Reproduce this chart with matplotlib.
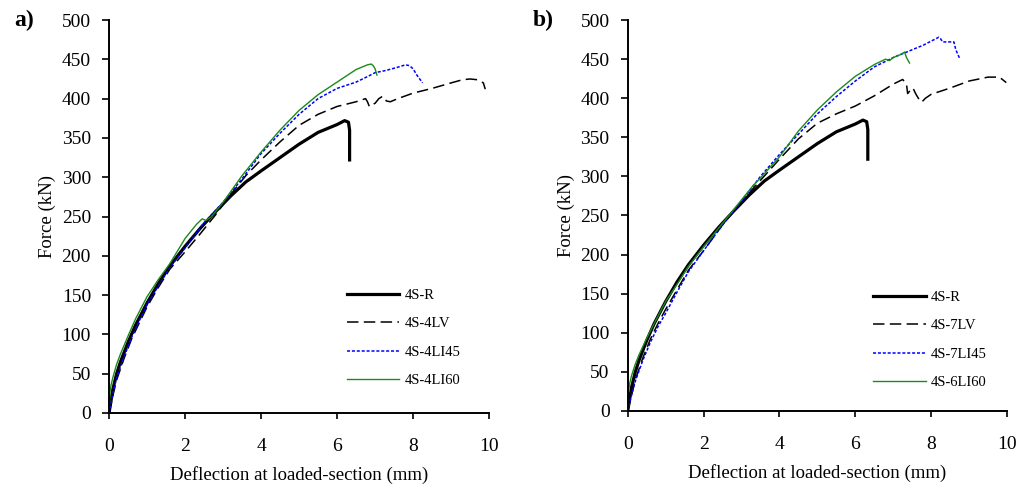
import matplotlib
matplotlib.use("Agg")
from matplotlib import pyplot as plt

plt.rcParams['font.family'] = ['Liberation Serif', 'DejaVu Serif']

# reference beam (same in both panels)
r_x = [0, 0.05, 0.1, 0.2, 0.3, 0.5, 0.7, 1.0, 1.3, 1.6, 2.0, 2.4, 2.8, 3.2,
       3.6, 4.0, 4.5, 5.0, 5.5, 6.0, 6.2, 6.3, 6.33, 6.33]
r_y = [0, 15, 30, 50, 65, 90, 112, 140, 165, 187, 212, 235, 256, 276,
       294, 308, 325, 342, 357, 367, 372, 370, 360, 322]

# panel a
lv_a_x = [0, 0.05, 0.1, 0.2, 0.4, 0.6, 0.8, 1.0, 1.3, 1.6, 2.0, 2.4, 2.8, 3.2,
          3.6, 4.0, 4.5, 5.0, 5.5, 6.0, 6.5, 6.75, 6.8, 6.85, 6.9, 7.0, 7.1,
          7.2, 7.3, 7.4, 7.6, 8.0, 8.5, 9.0, 9.3, 9.5, 9.7, 9.85, 9.9]
lv_a_y = [0, 10, 22, 42, 70, 95, 115, 135, 160, 183, 205, 228, 252, 278,
          302, 322, 345, 366, 380, 390, 396, 400, 396, 390, 392, 394, 400,
          403, 397, 396, 400, 407, 413, 420, 424, 425, 424, 420, 412]

li45_a_x = [0, 0.05, 0.1, 0.2, 0.4, 0.6, 0.8, 1.0, 1.3, 1.6, 2.0, 2.5, 3.0,
            3.5, 4.0, 4.5, 5.0, 5.5, 6.0, 6.5, 6.8, 7.0, 7.3, 7.6, 7.8, 7.9,
            8.0, 8.1, 8.25]
li45_a_y = [0, 12, 25, 45, 72, 97, 118, 138, 162, 185, 210, 242, 268,
            298, 330, 356, 380, 400, 413, 421, 428, 433, 436, 440, 443, 442,
            438, 430, 420]

li60_a_x = [0, 0.02, 0.05, 0.1, 0.2, 0.3, 0.5, 0.7, 1.0, 1.3, 1.6, 2.0, 2.3,
            2.45, 2.55, 2.7, 3.0, 3.5, 4.0, 4.5, 5.0, 5.5, 6.0, 6.5, 6.7, 6.8,
            6.9, 6.95, 7.0, 7.05]
li60_a_y = [0, 25, 35, 45, 62, 75, 98, 120, 148, 170, 190, 222, 240,
            247, 245, 250, 268, 302, 332, 360, 385, 405, 421, 437, 441, 443,
            444, 442, 438, 430]

# panel b
lv_b_x = [0, 0.05, 0.1, 0.2, 0.4, 0.6, 0.8, 1.0, 1.3, 1.6, 2.0, 2.5, 3.0, 3.5,
          4.0, 4.5, 5.0, 5.5, 6.0, 6.5, 7.0, 7.25, 7.35, 7.38, 7.45, 7.52, 7.6,
          7.7, 7.75, 7.85, 8.0, 8.5, 9.0, 9.5, 9.8, 9.98]
lv_b_y = [0, 10, 20, 40, 68, 92, 112, 130, 155, 180, 205, 238, 268, 295,
          322, 348, 368, 380, 390, 403, 418, 424, 418, 406, 410, 413, 405,
          397, 395, 400, 405, 413, 422, 427, 427, 420]

li45_b_x = [0, 0.05, 0.1, 0.2, 0.4, 0.6, 0.8, 1.0, 1.3, 1.6, 2.0, 2.5, 3.0,
            3.5, 4.0, 4.5, 5.0, 5.5, 6.0, 6.5, 7.0, 7.5, 7.8, 8.0, 8.2, 8.25,
            8.3, 8.6, 8.65, 8.75]
li45_b_y = [0, 10, 20, 38, 65, 88, 108, 125, 152, 178, 205, 238, 268,
            300, 328, 354, 380, 402, 422, 440, 452, 462, 468, 473, 478, 476,
            472, 472, 462, 451]

li60_b_x = [0, 0.02, 0.05, 0.1, 0.2, 0.3, 0.5, 0.7, 1.0, 1.3, 1.6, 2.0, 2.5,
            3.0, 3.3, 3.5, 4.0, 4.5, 5.0, 5.5, 6.0, 6.5, 6.8, 6.9, 7.0, 7.2,
            7.3, 7.35, 7.43]
li60_b_y = [0, 25, 35, 45, 60, 72, 93, 112, 140, 162, 185, 210, 240,
            270, 288, 298, 325, 358, 385, 408, 428, 443, 450, 448, 452, 456,
            459, 452, 445]

labels_a = ["4S-R", "4S-4LV", "4S-4LI45", "4S-4LI60"]
labels_b = ["4S-R", "4S-7LV", "4S-7LI45", "4S-6LI60"]
x_ticks = [0, 2, 4, 6, 8, 10]
y_ticks = [0, 50, 100, 150, 200, 250, 300, 350, 400, 450, 500]


def draw_panel(ax, curves, labels, tag, leg_anchor):
    (rx, ry), (lvx, lvy), (l45x, l45y), (l60x, l60y) = curves
    ax.plot(rx, ry, color="black", lw=2.3, label=labels[0])
    ax.plot(lvx, lvy, color="black", lw=1.1, dashes=(7.5, 3.5), label=labels[1])
    ax.plot(l45x, l45y, color="blue", lw=1.1, dashes=(2.0, 1.2), label=labels[2])
    ax.plot(l60x, l60y, color="#1a8a1a", lw=1.0, label=labels[3])

    ax.set_xlim(0, 10)
    ax.set_ylim(0, 500)
    ax.set_xticks(x_ticks)
    ax.set_yticks(y_ticks)
    for s in ("top", "right"):
        ax.spines[s].set_visible(False)
    for s in ("left", "bottom"):
        ax.spines[s].set_linewidth(1.4)
    ax.tick_params(axis="y", labelsize=14, length=5, width=1.2, pad=8)
    ax.tick_params(axis="x", labelsize=14, length=4, width=1.2, pad=14)
    ax.set_xlabel("Deflection at loaded-section (mm)", fontsize=13.5, labelpad=8)
    ax.set_ylabel("Force (kN)", fontsize=13.5, labelpad=4)

    ax.legend(loc="center left", bbox_to_anchor=leg_anchor, frameon=False,
              fontsize=10.5, handlelength=3.6, handletextpad=0.35,
              labelspacing=1.05, borderpad=0, borderaxespad=0)
    ax.text(-0.25, 1.0, tag, transform=ax.transAxes, fontsize=17,
            fontweight="bold", ha="left", va="center")


fig = plt.figure(figsize=(10.21, 4.91), dpi=100)
ax_a = fig.add_axes([0.1068, 0.1589, 0.3722, 0.8003])
ax_b = fig.add_axes([0.6148, 0.1630, 0.3715, 0.7962])

draw_panel(ax_a,
           [(r_x, r_y), (lv_a_x, lv_a_y), (li45_a_x, li45_a_y), (li60_a_x, li60_a_y)],
           labels_a, "a)", (0.626, 0.191))
draw_panel(ax_b,
           [(r_x, r_y), (lv_b_x, lv_b_y), (li45_b_x, li45_b_y), (li60_b_x, li60_b_y)],
           labels_b, "b)", (0.647, 0.182))

fig.savefig("out.png", dpi=100)
